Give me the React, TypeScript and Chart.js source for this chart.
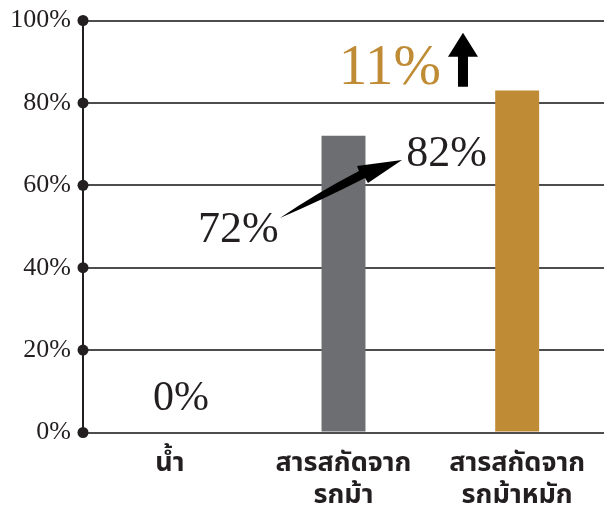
import React, { useEffect, useRef } from "react";
import { Chart, registerables } from "chart.js";

Chart.register(...registerables);

const categories: (string | string[])[] = [
  "น้ำ",
  ["สารสกัดจาก", "รกม้า"],
  ["สารสกัดจาก", "รกม้าหมัก"],
];
const values: number[] = [0, 72, 83];
const barColors: string[] = ["#6d6e71", "#6d6e71", "#bf8b35"];
const yTicks: number[] = [0, 20, 40, 60, 80, 100];
const valueLabels: string[] = ["0%", "72%", "82%"];
const increaseLabel = "11%";

const SERIF = "'Liberation Serif', 'DejaVu Serif', serif";
const THAI = "'Noto Sans Thai', 'Noto Sans', 'DejaVu Sans', sans-serif";
const INK = "#231f20";
const GOLD = "#bf8b35";

const annotate = {
  id: "annotate",
  afterDraw(chart: any) {
    const { ctx, chartArea } = chart;
    const xs = chart.scales.x;
    const ys = chart.scales.y;
    const px = (i: number) => xs.getPixelForValue(i);
    const py = (v: number) => ys.getPixelForValue(v);

    ctx.save();
    // dots on y axis at ticks
    ctx.fillStyle = INK;
    ys.ticks.forEach((t: any) => {
      ctx.beginPath();
      ctx.arc(chartArea.left, py(t.value), 5.5, 0, Math.PI * 2);
      ctx.fill();
    });

    ctx.textBaseline = "alphabetic";
    ctx.textAlign = "center";
    ctx.fillStyle = INK;
    // 0%
    ctx.font = `42px ${SERIF}`;
    ctx.fillText(valueLabels[0], px(0.064), py(5.5));
    // 72%
    ctx.font = `44px ${SERIF}`;
    ctx.fillText(valueLabels[1], px(0.395), py(46.2));
    // 82%
    ctx.fillText(valueLabels[2], px(1.593), py(64.6));
    // 11%
    ctx.fillStyle = GOLD;
    ctx.font = `57px ${SERIF}`;
    ctx.fillText(increaseLabel, px(1.267), py(84.5));

    // up arrow
    ctx.fillStyle = "#000";
    const ax = px(1.688);
    const tipY = py(97.0);
    const baseY = py(91.2);
    const botY = py(83.9);
    ctx.beginPath();
    ctx.moveTo(ax, tipY);
    ctx.lineTo(ax + 15, baseY);
    ctx.lineTo(ax + 5, baseY);
    ctx.lineTo(ax + 5, botY);
    ctx.lineTo(ax - 5, botY);
    ctx.lineTo(ax - 5, baseY);
    ctx.lineTo(ax - 15, baseY);
    ctx.closePath();
    ctx.fill();

    // curved arrow from 72% to 82%
    ctx.beginPath();
    ctx.moveTo(px(0.634), py(52.06)); // start
    ctx.quadraticCurveTo(px(0.836), py(57.89), px(1.089), py(63.47)); // upper edge
    ctx.lineTo(px(1.078), py(64.68)); // upper barb
    ctx.lineTo(px(1.337), py(66.14)); // tip
    ctx.lineTo(px(1.141), py(60.56)); // lower barb
    ctx.lineTo(px(1.124), py(61.77)); // lower join
    ctx.quadraticCurveTo(px(0.876), py(56.43), px(0.634), py(52.06));
    ctx.closePath();
    ctx.fill();
    ctx.restore();
  },
};

export default function App() {
  const ref = useRef<HTMLCanvasElement>(null);
  useEffect(() => {
    if (!ref.current) return;
    const chart = new Chart(ref.current, {
      type: "bar",
      data: {
        labels: categories,
        datasets: [
          {
            data: values,
            backgroundColor: barColors,
            barPercentage: 0.253,
            categoryPercentage: 1,
          },
        ],
      },
      options: {
        animation: false,
        responsive: true,
        maintainAspectRatio: false,
        layout: { padding: { top: 20.5, left: 0, right: 0, bottom: 0 } },
        plugins: { legend: { display: false }, tooltip: { enabled: false } },
        scales: {
          x: {
            grid: { display: false },
            border: { display: false },
            ticks: {
              color: INK,
              font: { family: THAI, size: 27, weight: "bold", lineHeight: 1.15 },
              padding: 10,
              maxRotation: 0,
              autoSkip: false,
            },
            afterFit: (s: any) => {
              s.height = 74.5;
            },
          },
          y: {
            min: 0,
            max: 100,
            afterBuildTicks: (s: any) => {
              s.ticks = yTicks.map((v) => ({ value: v }));
            },
            ticks: {
              color: INK,
              font: { family: SERIF, size: 26 },
              padding: 12,
              callback: (v: any) => `${v}%`,
            },
            grid: { color: "#4d4d4d", lineWidth: 2, drawTicks: false },
            border: { display: true, color: INK, width: 2 },
            afterFit: (s: any) => {
              s.width = 83;
              s.paddingTop = 0;
              s.paddingBottom = 0;
            },
          },
        },
      },
      plugins: [annotate],
    });
    return () => chart.destroy();
  }, []);
  return (
    <div style={{ position: "fixed", left: 0, top: 0, width: 604, height: 507, background: "#fff" }}>
      <canvas ref={ref} />
    </div>
  );
}
